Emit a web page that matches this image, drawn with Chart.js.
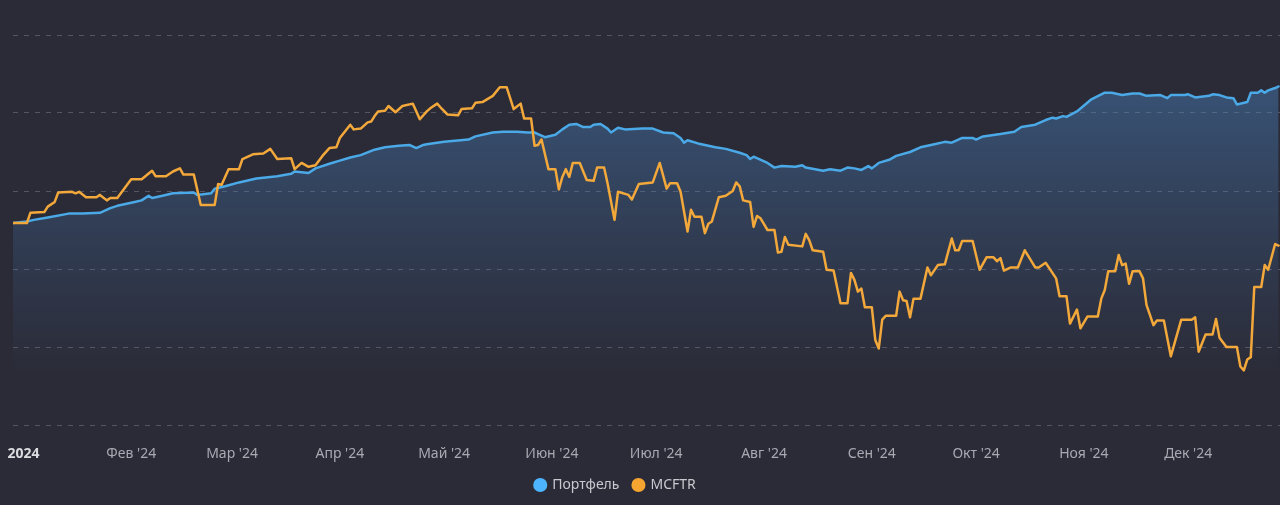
<!DOCTYPE html>
<html lang="ru">

<head>
    <meta charset="UTF-8">
    <title>Портфель и MCFTR</title>
    <script src="https://cdn.jsdelivr.net/npm/chart.js"></script>
    <style>
        html,
        body {
            margin: 0;
            padding: 0;
            background: #2b2b37;
            overflow: hidden;
        }

        .wrap {
            position: relative;
            width: 1280px;
            height: 505px;
        }
    </style>
</head>

<body>
    <div class="wrap">
        <canvas id="perfChart"></canvas>
    </div>

    <script>
        // день года 2024 (0 = 1 января), значения в условных единицах графика
        const portfolioDays = [-3, 1, 3, 7, 13, 17, 22, 25, 27, 32,
            34, 36, 37, 40, 43, 49, 50, 54, 55, 58,
            62, 67, 71, 73, 77, 78, 82, 84, 88, 91,
            94, 97, 101, 104, 108, 111, 113, 115, 116, 121,
            128, 130, 135, 138, 142, 145, 147, 148, 150, 153,
            155, 157, 159, 161, 163, 164, 166, 168, 169, 171,
            173, 178, 181, 184, 187, 189, 190, 191, 194, 196,
            199, 202, 206, 208, 209, 210, 214, 216, 218, 222,
            224, 225, 230, 232, 235, 237, 239, 241, 243, 244,
            246, 249, 251, 255, 258, 262, 265, 267, 270, 273,
            274, 276, 281, 285, 287, 291, 294, 296, 297, 299,
            300, 303, 307, 311, 313, 316, 319, 321, 323, 327,
            329, 330, 334, 335, 337, 341, 342, 344, 346, 348,
            349, 352, 353, 355, 356, 357, 358, 360, 361];

        const portfolioValues = [25.9, 26.1, 26.3, 26.6, 27.1, 27.1, 27.2, 27.8, 28.1, 28.6,
            28.8, 29.4, 29.1, 29.4, 29.7, 29.8, 29.5, 29.7, 30.3, 30.6,
            31.1, 31.6, 31.8, 31.9, 32.2, 32.5, 32.3, 32.9, 33.5, 33.9,
            34.3, 34.6, 35.3, 35.6, 35.8, 35.9, 35.5, 35.9, 36.0, 36.3,
            36.6, 37.0, 37.5, 37.6, 37.6, 37.5, 37.5, 37.3, 36.9, 37.2,
            37.9, 38.5, 38.6, 38.2, 38.2, 38.5, 38.6, 38.0, 37.5, 38.1,
            37.9, 38.0, 38.0, 37.5, 37.4, 36.8, 36.2, 36.5, 36.1, 35.9,
            35.6, 35.4, 34.9, 34.6, 34.1, 34.4, 33.6, 33.0, 33.2, 33.1,
            33.3, 33.0, 32.6, 32.8, 32.6, 33.0, 32.9, 32.7, 33.2, 32.9,
            33.6, 34.0, 34.5, 35.0, 35.6, 36.0, 36.3, 36.2, 36.8, 36.8,
            36.6, 37.0, 37.3, 37.6, 38.2, 38.5, 39.1, 39.4, 39.3, 39.6,
            39.5, 40.2, 41.7, 42.6, 42.6, 42.3, 42.5, 42.5, 42.2, 42.3,
            41.9, 42.3, 42.3, 42.4, 42.0, 42.2, 42.4, 42.3, 42.0, 41.9,
            41.1, 41.4, 42.6, 42.6, 42.9, 42.6, 42.9, 43.2, 43.4];

        const mcftrDays = [-3, 1, 2, 6, 7, 9, 10, 14, 15, 16,
            18, 21, 22, 24, 25, 27, 31, 34, 37, 38,
            41, 43, 45, 46, 49, 51, 55, 56, 57, 59,
            62, 63, 66, 69, 71, 73, 77, 78, 80, 82,
            84, 86, 88, 90, 91, 94, 95, 97, 99, 100,
            101, 102, 104, 105, 107, 109, 112, 114, 116, 117,
            119, 120, 122, 125, 126, 129, 130, 132, 135, 137,
            139, 141, 143, 144, 146, 147, 148, 149, 151, 153,
            154, 155, 156, 157, 158, 160, 162, 164, 165, 167,
            168, 170, 171, 174, 175, 177, 181, 183, 185, 186,
            188, 189, 191, 192, 193, 195, 196, 197, 198, 200,
            202, 204, 205, 206, 207, 209, 210, 211, 212, 214,
            216, 217, 218, 219, 220, 224, 225, 226, 227, 230,
            231, 233, 235, 237, 238, 239, 240, 241, 242, 244,
            245, 246, 247, 248, 251, 252, 253, 254, 255, 256,
            258, 260, 261, 263, 265, 267, 268, 269, 270, 273,
            275, 277, 279, 280, 281, 282, 284, 286, 288, 291,
            292, 294, 297, 298, 300, 301, 303, 304, 306, 309,
            310, 311, 312, 314, 315, 316, 317, 318, 319, 321,
            322, 323, 325, 326, 328, 330, 333, 336, 337, 338,
            340, 342, 343, 344, 346, 349, 350, 351, 352, 353,
            354, 356, 357, 358, 360, 361];

        const mcftrValues = [25.9, 25.9, 27.2, 27.3, 28.0, 28.6, 29.8, 29.9, 29.7, 29.9,
            29.2, 29.2, 29.5, 28.8, 29.1, 29.1, 31.5, 31.5, 32.6, 31.9,
            31.9, 32.5, 32.9, 32.1, 32.1, 28.2, 28.2, 30.9, 30.8, 32.8,
            32.8, 34.1, 34.7, 34.8, 35.4, 34.1, 34.2, 32.8, 33.6, 33.1,
            33.3, 34.5, 35.5, 35.6, 36.8, 38.5, 37.9, 38.0, 38.8, 38.9,
            39.6, 40.2, 40.3, 40.9, 40.1, 40.9, 41.2, 39.2, 40.2, 40.6,
            41.2, 40.7, 39.8, 39.7, 40.5, 40.6, 41.3, 41.4, 42.2, 43.3,
            43.3, 40.5, 41.2, 39.3, 39.3, 35.8, 35.9, 36.6, 32.8, 32.8,
            30.2, 31.8, 32.8, 31.8, 33.6, 33.6, 31.4, 31.3, 33.0, 33.0,
            31.0, 26.3, 29.9, 29.5, 28.9, 30.9, 31.1, 33.6, 30.3, 31.0,
            31.0, 29.9, 24.8, 27.6, 26.7, 26.7, 24.6, 25.8, 26.1, 29.2,
            29.4, 30.0, 31.1, 30.6, 28.8, 28.6, 25.4, 26.8, 26.5, 25.0,
            25.0, 22.1, 22.2, 24.1, 23.1, 22.9, 24.5, 23.7, 22.4, 22.2,
            19.9, 19.8, 15.6, 15.6, 19.5, 18.6, 17.1, 17.5, 15.1, 15.1,
            10.9, 9.8, 13.5, 14.0, 14.0, 17.1, 16.0, 15.9, 13.8, 16.2,
            16.2, 20.2, 19.2, 20.5, 20.6, 23.9, 22.4, 22.4, 23.6, 23.6,
            19.9, 21.5, 21.5, 21.0, 21.4, 19.8, 20.2, 20.2, 22.4, 20.2,
            20.2, 20.8, 18.8, 16.5, 16.5, 13.0, 14.8, 12.4, 13.9, 13.9,
            16.2, 17.3, 19.7, 19.7, 21.8, 20.5, 20.7, 18.1, 19.7, 19.7,
            18.8, 15.4, 12.8, 13.4, 13.4, 8.8, 13.5, 13.5, 13.8, 9.4,
            11.6, 11.6, 13.6, 11.2, 10.0, 10.0, 7.5, 7.0, 8.4, 8.7,
            17.7, 17.7, 20.5, 19.9, 23.2, 23.0];

        // начала месяцев и подписи оси X
        const monthStarts = [0, 31, 60, 91, 121, 152, 182, 213, 244, 274, 305, 335];
        const monthLabels = ['2024', "Фев '24", "Мар '24", "Апр '24", "Май '24", "Июн '24",
            "Июл '24", "Авг '24", "Сен '24", "Окт '24", "Ноя '24", "Дек '24"];

        const fontFamily = "'Segoe UI', 'Noto Sans', sans-serif";

        function toPoints(days, values) {
            return days.map((d, i) => ({ x: d, y: values[i] }));
        }

        function areaGradient(context) {
            const chart = context.chart;
            const area = chart.chartArea;
            if (!area) return 'rgba(0,0,0,0)';
            const g = chart.ctx.createLinearGradient(0, area.top, 0, area.bottom);
            g.addColorStop(0, 'rgba(72, 128, 188, 0.55)');
            g.addColorStop(0.5, 'rgba(72, 128, 188, 0.22)');
            g.addColorStop(0.88, 'rgba(72, 128, 188, 0)');
            return g;
        }

        // сдвиг легенды влево, как в оригинале
        const legendShift = {
            id: 'legendShift',
            afterLayout(chart) {
                if (chart.legend) {
                    chart.legend.left -= 31;
                    chart.legend.right -= 31;
                }
            }
        };

        new Chart(document.getElementById('perfChart'), {
            type: 'line',
            data: {
                datasets: [{
                    label: 'Портфель',
                    data: toPoints(portfolioDays, portfolioValues),
                    borderColor: '#4aa9e6',
                    backgroundColor: areaGradient,
                    fill: 'start',
                    borderWidth: 2.5,
                    pointRadius: 0,
                    tension: 0,
                    order: 1
                }, {
                    label: 'MCFTR',
                    data: toPoints(mcftrDays, mcftrValues),
                    borderColor: '#f2a83a',
                    backgroundColor: '#f2a83a',
                    fill: false,
                    borderWidth: 2.5,
                    pointRadius: 0,
                    tension: 0,
                    order: 0
                }]
            },
            options: {
                responsive: true,
                maintainAspectRatio: false,
                animation: false,
                layout: { autoPadding: false, padding: { top: 35, left: 13, right: 0, bottom: 3 } },
                elements: { line: { borderJoinStyle: 'round', borderCapStyle: 'round' } },
                plugins: {
                    tooltip: { enabled: false },
                    legend: {
                        position: 'bottom',
                        labels: {
                            usePointStyle: true,
                            pointStyle: 'circle',
                            boxWidth: 10,
                            boxHeight: 10,
                            padding: 14,
                            color: '#c9c9cf',
                            font: { family: fontFamily, size: 14 },
                            sort: (a, b) => a.datasetIndex - b.datasetIndex,
                            generateLabels: chart => chart.data.datasets.map((ds, i) => ({
                                text: ds.label,
                                fillStyle: i === 0 ? '#4db5ff' : '#f7a531',
                                strokeStyle: i === 0 ? '#4db5ff' : '#f7a531',
                                lineWidth: 0,
                                pointStyle: 'circle',
                                fontColor: '#c9c9cf',
                                hidden: false,
                                datasetIndex: i
                            }))
                        }
                    }
                },
                scales: {
                    x: {
                        type: 'linear',
                        min: -3,
                        max: 361.4,
                        grid: { display: false, drawTicks: false },
                        border: { display: false },
                        afterBuildTicks: axis => {
                            axis.ticks = monthStarts.map(v => ({ value: v }));
                        },
                        afterFit: axis => {
                            axis.height = 39;
                            axis.paddingLeft = 0;
                            axis.paddingRight = 0;
                        },
                        ticks: {
                            autoSkip: false,
                            maxRotation: 0,
                            padding: 21,
                            color: ctx => ctx.index === 0 ? '#dcdce0' : '#a9a9b2',
                            font: ctx => ctx.index === 0
                                ? { family: fontFamily, size: 14, weight: 'bold' }
                                : { family: fontFamily, size: 14 },
                            callback: (value, index) => monthLabels[index]
                        }
                    },
                    y: {
                        min: 0,
                        max: 50,
                        afterFit: axis => {
                            axis.width = 0;
                        },
                        ticks: { display: false, stepSize: 10 },
                        grid: { color: 'rgba(255, 255, 255, 0.2)', drawTicks: false, lineWidth: 1 },
                        border: { display: false, dash: [5, 6] }
                    }
                }
            },
            plugins: [legendShift]
        });
    </script>
</body>

</html>
